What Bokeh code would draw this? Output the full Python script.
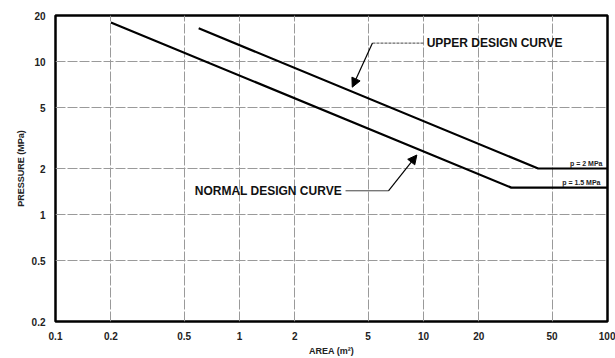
from bokeh.plotting import figure
from bokeh.models import FixedTicker, Range1d, Arrow, NormalHead, Label
from bokeh.embed import file_html
from bokeh.resources import INLINE

# data
area_normal = [0.2, 30, 100]
p_normal = [18, 1.5, 1.5]
area_upper = [0.6, 42, 100]
p_upper = [16.5, 2, 2]

x_ticks = [0.1, 0.2, 0.5, 1, 2, 5, 10, 20, 50, 100]
x_labels = ["0.1", "0.2", "0.5", "1", "2", "5", "10", "20", "50", "100"]
y_ticks = [0.2, 0.5, 1, 2, 5, 10, 20]
y_labels = ["0.2", "0.5", "1", "2", "5", "10", "20"]

FONT = "Liberation Sans"

p = figure(width=615, height=358, x_axis_type="log", y_axis_type="log",
           x_range=Range1d(0.1, 100), y_range=Range1d(0.2, 20),
           output_backend="svg", toolbar_location=None,
           min_border_left=55, min_border_right=8, min_border_top=15, min_border_bottom=34)

p.outline_line_color = "black"
p.outline_line_width = 2.5

for ax, ticks, labels in ((p.xaxis, x_ticks, x_labels), (p.yaxis, y_ticks, y_labels)):
    ax.ticker = FixedTicker(ticks=ticks, minor_ticks=[])
    ax.major_label_overrides = {t: l for t, l in zip(ticks, labels)}
    ax.axis_line_color = None
    ax.major_tick_line_color = None
    ax.minor_tick_line_color = None
    ax.major_label_text_font = FONT
    ax.major_label_text_font_size = "10px"
    ax.major_label_text_font_style = "bold"
    ax.major_label_text_color = "#222222"
    ax.axis_label_text_font = FONT
    ax.axis_label_text_font_size = "9px"
    ax.axis_label_text_font_style = "bold"
    ax.axis_label_text_color = "#222222"
    ax.major_label_standoff = 4
    ax.axis_label_standoff = 3

p.xaxis.axis_label = "AREA (m²)"
p.yaxis.axis_label = "PRESSURE (MPa)"

p.xgrid.ticker = FixedTicker(ticks=x_ticks[1:-1])
p.ygrid.ticker = FixedTicker(ticks=y_ticks[1:-1])
for g in (p.xgrid, p.ygrid):
    g.grid_line_color = "#9a9a9a"
    g.grid_line_width = 1
    g.grid_line_dash = "10 2"

p.line(area_normal, p_normal, line_color="black", line_width=2.2)
p.line(area_upper, p_upper, line_color="black", line_width=2.2)

# annotations: leaders and labels
p.line([5.28, 10.0], [13.2, 13.2], line_color="#444444", line_width=1, line_dash="3 1")
p.add_layout(Arrow(end=NormalHead(size=9, fill_color="black", line_color="black"),
                   x_start=5.28, y_start=13.2, x_end=4.1, y_end=6.8,
                   line_color="black", line_width=1.2))
p.add_layout(Label(x=10.4, y=13.2, text="UPPER DESIGN CURVE", text_font=FONT,
                   text_font_size="12px", text_font_style="bold", text_baseline="middle",
                   text_color="#111111"))

p.line([3.77, 6.45], [1.43, 1.43], line_color="#444444", line_width=1)
p.add_layout(Arrow(end=NormalHead(size=9, fill_color="black", line_color="black"),
                   x_start=6.45, y_start=1.43, x_end=9.2, y_end=2.45,
                   line_color="black", line_width=1.2))
p.add_layout(Label(x=3.6, y=1.43, text="NORMAL DESIGN CURVE", text_font=FONT,
                   text_font_size="12px", text_font_style="bold", text_baseline="middle",
                   text_align="right", text_color="#111111"))

p.add_layout(Label(x=100, y=2, x_offset=-5, y_offset=2, text="p = 2 MPa", text_font=FONT,
                   text_font_size="7px", text_font_style="bold", text_align="right",
                   text_baseline="bottom", text_color="#222222"))
p.add_layout(Label(x=100, y=1.5, x_offset=-7, y_offset=2, text="p = 1.5 MPa", text_font=FONT,
                   text_font_size="7px", text_font_style="bold", text_align="right",
                   text_baseline="bottom", text_color="#222222"))

open("out.html", "w").write(file_html(p, INLINE))
